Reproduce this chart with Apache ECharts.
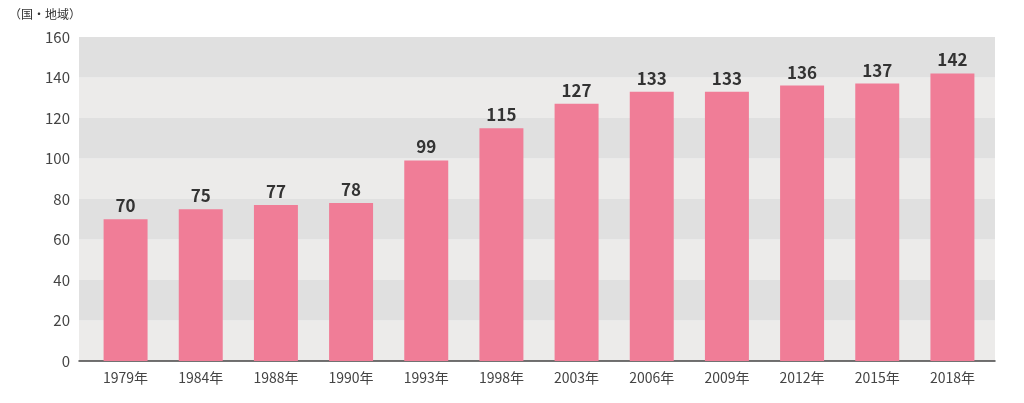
<!DOCTYPE html>
<html><head><meta charset="utf-8">
<script src="https://cdn.jsdelivr.net/npm/echarts@6/dist/echarts.min.js"></script>
<style>html,body{margin:0;padding:0;background:#fff}#c{width:1024px;height:403px}</style>
</head><body><div id="c"></div>
<script>
const categories = ['1979年','1984年','1988年','1990年','1993年','1998年','2003年','2006年','2009年','2012年','2015年','2018年'];
const values = [70,75,77,78,99,115,127,133,133,136,137,142];
const unitLabel = '（国・地域）';
const font = '"Noto Sans CJK JP", "Noto Sans", sans-serif';
const chart = echarts.init(document.getElementById('c'), null, {renderer:'canvas'});
chart.setOption({
  animation:false,
  backgroundColor:'#fff',
  grid:[
    {left:79,right:29,top:37,bottom:42,containLabel:false},
    {left:88,right:34,top:37,bottom:42,containLabel:false}
  ],
  graphic:[{type:'text',left:9,top:8,style:{text:unitLabel,fontSize:12,fill:'#333',fontFamily:font}}],
  xAxis:[
    {gridIndex:0,type:'value',min:0,max:1,axisLabel:{show:false},axisTick:{show:false},splitLine:{show:false},
      axisLine:{show:true,lineStyle:{color:'#444',width:1.5}}},
    {gridIndex:1,type:'category',data:categories,
      axisLine:{show:false},axisTick:{show:false},
      axisLabel:{color:'#444',fontSize:14,margin:10,fontFamily:font}}
  ],
  yAxis:[
    {gridIndex:0,type:'value',min:0,max:160,interval:20,
      axisLine:{show:false},axisTick:{show:false},splitLine:{show:false},
      splitArea:{show:true,areaStyle:{color:['#ecebea','#e0e0e0']}},
      axisLabel:{color:'#444',fontSize:15,margin:9,fontFamily:font}},
    {gridIndex:1,type:'value',min:0,max:160,interval:20,show:false,splitLine:{show:false}}
  ],
  series:[{type:'bar',xAxisIndex:1,yAxisIndex:1,data:values,barWidth:'58.5%',
    itemStyle:{color:'#f07d97'},
    label:{show:true,position:'top',distance:5,color:'#333',fontSize:17,fontWeight:'bold',fontFamily:font}}]
});
</script></body></html>
